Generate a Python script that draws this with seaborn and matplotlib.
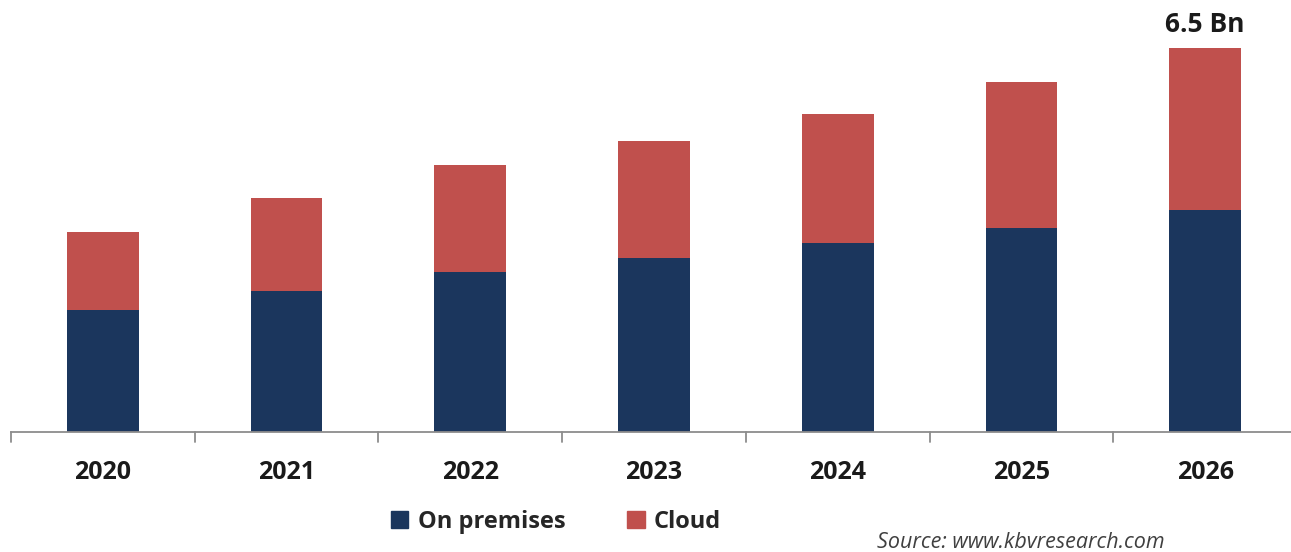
import matplotlib
matplotlib.use("Agg")
import matplotlib.pyplot as plt
import seaborn as sns
import pandas as pd
from matplotlib.patches import Patch

years = ["2020", "2021", "2022", "2023", "2024", "2025", "2026"]
on_premises = [2.07, 2.39, 2.71, 2.95, 3.20, 3.45, 3.76]
cloud = [1.32, 1.57, 1.81, 1.98, 2.18, 2.47, 2.74]
total_label = "6.5 Bn"

navy = "#1B365D"
red = "#C0504D"

sns.set_theme(style="white")
plt.rcParams["font.family"] = ["Open Sans", "DejaVu Sans"]

df = pd.DataFrame({"year": years, "on": on_premises, "cloud": cloud})
df["total"] = df["on"] + df["cloud"]

fig = plt.figure(figsize=(12.91, 5.52), dpi=100)
ax = fig.add_axes([11 / 1291, 120 / 552, 1286 / 1291, 422 / 552])

sns.barplot(data=df, x="year", y="total", color=red, width=0.39, ax=ax,
            saturation=1, label="Cloud", linewidth=0, edgecolor="none")
sns.barplot(data=df, x="year", y="on", color=navy, width=0.39, ax=ax,
            saturation=1, label="On premises", linewidth=0, edgecolor="none")

ax.set_xlim(-0.5, len(years) - 0.5)
ax.set_ylim(0, 7.14)
ax.set_xlabel("")
ax.set_ylabel("")
ax.set_yticks([])
for s in ["top", "right", "left"]:
    ax.spines[s].set_visible(False)
ax.spines["bottom"].set_color("#8C8C8C")
ax.spines["bottom"].set_linewidth(1.3)

ax.set_xticks(range(len(years)))
ax.set_xticklabels(years, fontsize=18, fontweight="bold", color="#1A1A1A")
ax.tick_params(axis="x", length=0, pad=20)
# boundary ticks
for b in [i - 0.5 for i in range(len(years) + 1)]:
    ax.plot([b, b], [0, -0.17], color="#8C8C8C", lw=1.3, clip_on=False)

ax.text(len(years) - 1, df["total"].iloc[-1] + 0.16, total_label, ha="center",
        va="bottom", fontsize=19, fontweight="bold", color="#1A1A1A")

if ax.get_legend() is not None:
    ax.get_legend().remove()
handles = [Patch(color=navy, label="On premises"), Patch(color=red, label="Cloud")]
fig.legend(handles=handles, loc="center", bbox_to_anchor=(556 / 1291, 1 - 522 / 552),
           ncol=2, frameon=False, handlelength=0.75, handleheight=0.75,
           handletextpad=0.4, columnspacing=2.6,
           prop={"size": 17, "weight": "bold"})

fig.text(1021 / 1291, 1 - 542 / 552, "Source: www.kbvresearch.com", ha="center",
         va="center", fontsize=15.5, style="italic", color="#404040")

fig.savefig("out.png", dpi=100, facecolor="white")
